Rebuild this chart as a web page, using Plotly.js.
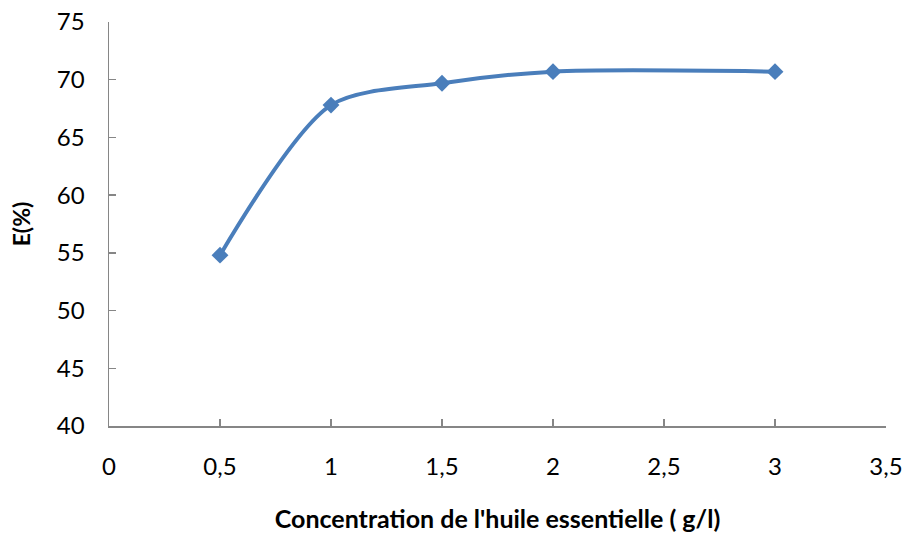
<!DOCTYPE html>
<html>
<head>
<meta charset="utf-8">
<script src="https://cdn.plot.ly/plotly-3.0.1.min.js"></script>
<style>html,body{margin:0;padding:0;background:#fff;}#chart{width:904px;height:534px;}</style>
</head>
<body>
<div id="chart"></div>
<script>
const concentration = [0.5, 1, 1.5, 2, 3];
const efficacite = [54.8, 67.8, 69.7, 70.7, 70.7];
const xTicks = [0, 0.5, 1, 1.5, 2, 2.5, 3, 3.5];
const xTickLabels = ["0", "0,5", "1", "1,5", "2", "2,5", "3", "3,5"];
const yTicks = [40, 45, 50, 55, 60, 65, 70, 75];

const FONT = "Lato, 'Open Sans', sans-serif";
const trace = {
  x: concentration, y: efficacite,
  type: "scatter", mode: "lines+markers",
  line: {shape: "spline", smoothing: 0.8, color: "#4a7ebb", width: 4},
  marker: {symbol: "diamond", size: 13, color: "#4a7ebb", line: {width: 0}},
  hoverinfo: "x+y"
};
const layout = {
  width: 904, height: 534,
  margin: {l: 109, r: 18, t: 22, b: 108},
  paper_bgcolor: "#fff", plot_bgcolor: "#fff",
  showlegend: false,
  font: {family: FONT, size: 22, color: "#000"},
  xaxis: {
    range: [0, 3.5], tickvals: xTicks, ticktext: xTickLabels,
    tickfont: {family: FONT, size: 24, color: "#000"},
    showgrid: false, zeroline: false, showline: true, linecolor: "#868686", linewidth: 1.5,
    ticks: "inside", ticklen: 7, tickwidth: 1.5, tickcolor: "#868686",
    ticklabelstandoff: 19,
    title: {text: "<b>Concentration de l'huile essentielle ( g/l)</b>", font: {family: FONT, size: 25}, standoff: 31}
  },
  yaxis: {
    range: [40, 75], tickvals: yTicks,
    tickfont: {family: FONT, size: 24, color: "#000"},
    showgrid: false, zeroline: false, showline: true, linecolor: "#868686", linewidth: 1.5,
    ticks: "inside", ticklen: 7, tickwidth: 1.5, tickcolor: "#868686",
    ticklabelstandoff: 18,
    title: {text: "<b>E(%)</b>", font: {family: FONT, size: 23}, standoff: 20}
  }
};
Plotly.newPlot("chart", [trace], layout, {displayModeBar: false, staticPlot: true});
</script>
</body>
</html>
